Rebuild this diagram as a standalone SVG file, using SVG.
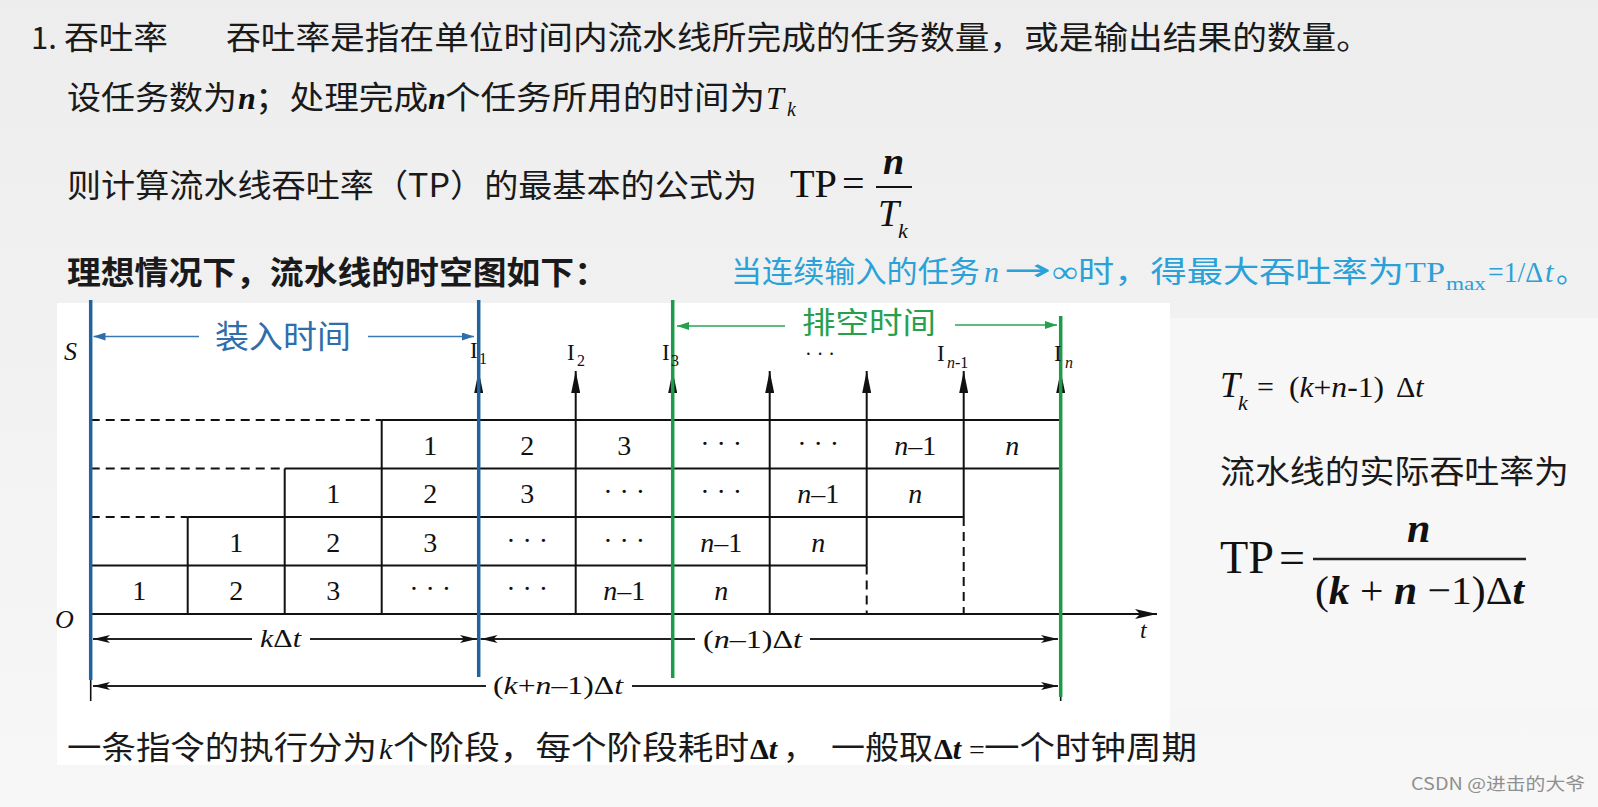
<svg xmlns="http://www.w3.org/2000/svg" width="1598" height="807" viewBox="0 0 1598 807">
<style>
.cjk{font-family:"Noto Sans CJK SC","Noto Sans",sans-serif;fill:#1a1a1a}
.m{font-family:"Liberation Serif","Times New Roman",serif;fill:#111}
.i{font-style:italic}
.b{font-weight:bold}
.cy{fill:#2aa1d8}
.g{stroke:#111;stroke-width:2;fill:none}
.d{stroke:#111;stroke-width:2;fill:none;stroke-dasharray:9 6}
.dim{stroke:#222;stroke-width:2.2;fill:none}
.num{font-family:"Liberation Serif","Times New Roman",serif;font-size:28px;fill:#111;text-anchor:middle}
.blue{stroke:#1f64a0;stroke-width:3.5}
.green{stroke:#1d9a4a;stroke-width:3.5}
</style>
<defs>
<linearGradient id="bg" x1="0" y1="0" x2="0" y2="1">
<stop offset="0" stop-color="#ededed"/>
<stop offset="1" stop-color="#f7f7f7"/>
</linearGradient>
<marker id="up" markerUnits="userSpaceOnUse" markerWidth="22" markerHeight="9" refX="22" refY="4.5" orient="auto"><path d="M0,0 L22,4.5 L0,9 Z" fill="#111"/></marker>
<marker id="ax" markerUnits="userSpaceOnUse" markerWidth="22" markerHeight="10" refX="22" refY="5" orient="auto"><path d="M0,0 L22,5 L0,10 L5,5 Z" fill="#111"/></marker>
<marker id="da" markerUnits="userSpaceOnUse" markerWidth="17" markerHeight="8" refX="17" refY="4" orient="auto"><path d="M0,0 L17,4 L0,8 L4,4 Z" fill="#111"/></marker>
<marker id="ba" markerUnits="userSpaceOnUse" markerWidth="12" markerHeight="8" refX="12" refY="4" orient="auto"><path d="M0,0 L12,4 L0,8 Z" fill="#2f6eab"/></marker>
<marker id="ga" markerUnits="userSpaceOnUse" markerWidth="12" markerHeight="8" refX="12" refY="4" orient="auto"><path d="M0,0 L12,4 L0,8 Z" fill="#27a04e"/></marker>
</defs>
<rect width="1598" height="807" fill="url(#bg)"/>
<rect x="57" y="303" width="1113" height="462" fill="#ffffff"/>
<rect x="1170" y="318" width="428" height="392" fill="#f7f7f7"/>

<g id="header">
<text class="cjk" x="31" y="49" font-size="31">1.</text>
<text class="cjk" x="64" y="49" font-size="32" textLength="104" lengthAdjust="spacingAndGlyphs">吞吐率</text>
<text class="cjk" x="226" y="49" font-size="32" textLength="1145" lengthAdjust="spacingAndGlyphs">吞吐率是指在单位时间内流水线所完成的任务数量，或是输出结果的数量。</text>
</g>
<g id="line2">
<text class="cjk" x="67" y="109" font-size="32" textLength="170" lengthAdjust="spacingAndGlyphs">设任务数为</text>
<text class="m i b" x="238" y="109" font-size="32">n</text>
<text class="cjk" x="255" y="109" font-size="32" textLength="173" lengthAdjust="spacingAndGlyphs">；处理完成</text>
<text class="m i b" x="428" y="109" font-size="32">n</text>
<text class="cjk" x="445" y="109" font-size="32" textLength="320" lengthAdjust="spacingAndGlyphs">个任务所用的时间为</text>
<text class="m i" x="766" y="109" font-size="32">T</text>
<text class="m i" x="787" y="116" font-size="20">k</text>
</g>
<g id="line3">
<text class="cjk" x="67" y="197" font-size="32" textLength="690" lengthAdjust="spacingAndGlyphs">则计算流水线吞吐率（TP）的最基本的公式为</text>
<text class="m" x="790" y="197" font-size="40" textLength="47" lengthAdjust="spacingAndGlyphs">TP</text>
<text class="m" x="842" y="197" font-size="40">=</text>
<text class="m i b" x="883" y="174" font-size="38">n</text>
<line x1="876" y1="187" x2="912" y2="187" stroke="#111" stroke-width="2"/>
<text class="m i" x="878" y="226" font-size="38">T</text>
<text class="m i" x="898" y="238" font-size="22">k</text>
</g>
<g id="line4">
<text class="cjk" x="67" y="284" font-size="32" font-weight="bold" textLength="541" lengthAdjust="spacingAndGlyphs">理想情况下，流水线的时空图如下：</text>
</g>
<g id="note">
<text class="cjk cy" x="731" y="282" font-size="30" textLength="249" lengthAdjust="spacingAndGlyphs">当连续输入的任务</text>
<text class="m i cy" x="984" y="282" font-size="30">n</text>
<text class="cy" x="1003" y="280" font-size="30" font-family="DejaVu Sans, sans-serif" textLength="48" lengthAdjust="spacingAndGlyphs">→</text>
<text class="m cy" x="1052" y="282" font-size="30" textLength="26" lengthAdjust="spacingAndGlyphs">∞</text>
<text class="cjk cy" x="1078" y="282" font-size="30" textLength="326" lengthAdjust="spacingAndGlyphs">时，得最大吞吐率为</text>
<text class="m cy" x="1405" y="282" font-size="30" textLength="40" lengthAdjust="spacingAndGlyphs">TP</text>
<text class="m cy" x="1446" y="290" font-size="18" textLength="40" lengthAdjust="spacingAndGlyphs">max</text>
<text class="m cy" x="1488" y="282" font-size="30" textLength="55" lengthAdjust="spacingAndGlyphs">=1/Δ</text>
<text class="m i cy" x="1545" y="282" font-size="30">t</text>
<text class="cjk cy" x="1556" y="282" font-size="30">。</text>
</g>

<g id="grid">
<line class="g" x1="90.7" y1="565.5" x2="866.7" y2="565.5"/>
<line class="d" x1="90.7" y1="517" x2="187.7" y2="517"/>
<line class="g" x1="187.7" y1="517" x2="963.7" y2="517"/>
<line class="d" x1="90.7" y1="468.5" x2="284.7" y2="468.5"/>
<line class="g" x1="284.7" y1="468.5" x2="1060.7" y2="468.5"/>
<line class="d" x1="90.7" y1="420" x2="381.7" y2="420"/>
<line class="g" x1="381.7" y1="420" x2="1060.7" y2="420"/>
<line class="g" x1="187.7" y1="517" x2="187.7" y2="614"/>
<line class="g" x1="284.7" y1="468.5" x2="284.7" y2="614"/>
<line class="g" x1="381.7" y1="420" x2="381.7" y2="614"/>
<line class="d" x1="866.7" y1="565.5" x2="866.7" y2="614"/>
<line class="d" x1="963.7" y1="517" x2="963.7" y2="614"/>
</g>
<g id="connectors">
<line class="g" x1="90.7" y1="614" x2="1157" y2="614" marker-end="url(#ax)"/>
<line class="g" x1="478.7" y1="614" x2="478.7" y2="371" marker-end="url(#up)"/>
<line class="g" x1="575.7" y1="614" x2="575.7" y2="371" marker-end="url(#up)"/>
<line class="g" x1="672.7" y1="614" x2="672.7" y2="371" marker-end="url(#up)"/>
<line class="g" x1="769.7" y1="614" x2="769.7" y2="371" marker-end="url(#up)"/>
<line class="g" x1="866.7" y1="565.5" x2="866.7" y2="371" marker-end="url(#up)"/>
<line class="g" x1="963.7" y1="517" x2="963.7" y2="371" marker-end="url(#up)"/>
<line class="g" x1="1060.7" y1="468.5" x2="1060.7" y2="371" marker-end="url(#up)"/>
<line class="dim" x1="252" y1="639" x2="93" y2="639" marker-end="url(#da)"/>
<line class="dim" x1="310" y1="639" x2="477" y2="639" marker-end="url(#da)"/>
<line class="dim" x1="695" y1="639" x2="480.5" y2="639" marker-end="url(#da)"/>
<line class="dim" x1="810" y1="639" x2="1058" y2="639" marker-end="url(#da)"/>
<line class="dim" x1="486" y1="686" x2="93" y2="686" marker-end="url(#da)"/>
<line class="dim" x1="632" y1="686" x2="1058" y2="686" marker-end="url(#da)"/>
<line x1="199" y1="336.5" x2="93.5" y2="336.5" stroke="#3a78b5" stroke-width="1.6" marker-end="url(#ba)"/>
<line x1="368" y1="336.5" x2="474" y2="336.5" stroke="#3a78b5" stroke-width="1.6" marker-end="url(#ba)"/>
<line x1="785" y1="326" x2="677" y2="326" stroke="#2aa352" stroke-width="1.6" marker-end="url(#ga)"/>
<line x1="955" y1="325" x2="1057" y2="325" stroke="#2aa352" stroke-width="1.6" marker-end="url(#ga)"/>
<line x1="90.7" y1="678" x2="90.7" y2="701" stroke="#111" stroke-width="1.6"/>
<line x1="1060.7" y1="690" x2="1060.7" y2="701" stroke="#111" stroke-width="1.6"/>
</g>

<g id="stage1">
<text class="num" x="139.2" y="600">1</text>
<text class="num" x="236.2" y="600">2</text>
<text class="num" x="333.2" y="600">3</text>
<text class="num" x="430.2" y="598" font-size="22">· · ·</text>
<text class="num" x="527.2" y="598" font-size="22">· · ·</text>
<text class="num" x="624.2" y="600"><tspan class="i">n</tspan>–1</text>
<text class="num i" x="721.2" y="600">n</text>
</g>
<g id="stage2">
<text class="num" x="236.2" y="551.5">1</text>
<text class="num" x="333.2" y="551.5">2</text>
<text class="num" x="430.2" y="551.5">3</text>
<text class="num" x="527.2" y="549.5" font-size="22">· · ·</text>
<text class="num" x="624.2" y="549.5" font-size="22">· · ·</text>
<text class="num" x="721.2" y="551.5"><tspan class="i">n</tspan>–1</text>
<text class="num i" x="818.2" y="551.5">n</text>
</g>
<g id="stage3">
<text class="num" x="333.2" y="503">1</text>
<text class="num" x="430.2" y="503">2</text>
<text class="num" x="527.2" y="503">3</text>
<text class="num" x="624.2" y="501" font-size="22">· · ·</text>
<text class="num" x="721.2" y="501" font-size="22">· · ·</text>
<text class="num" x="818.2" y="503"><tspan class="i">n</tspan>–1</text>
<text class="num i" x="915.2" y="503">n</text>
</g>
<g id="stage4">
<text class="num" x="430.2" y="454.5">1</text>
<text class="num" x="527.2" y="454.5">2</text>
<text class="num" x="624.2" y="454.5">3</text>
<text class="num" x="721.2" y="452.5" font-size="22">· · ·</text>
<text class="num" x="818.2" y="452.5" font-size="22">· · ·</text>
<text class="num" x="915.2" y="454.5"><tspan class="i">n</tspan>–1</text>
<text class="num i" x="1012.2" y="454.5">n</text>
</g>

<g id="phase-lines">
<line class="blue" x1="90.7" y1="300" x2="90.7" y2="680"/>
<line class="blue" x1="478.7" y1="300" x2="478.7" y2="677"/>
<line class="green" x1="672.7" y1="300" x2="672.7" y2="678"/>
<line class="green" x1="1060.7" y1="316" x2="1060.7" y2="697"/>
</g>

<g id="axis-labels">
<text class="m i" x="64" y="360" font-size="26">S</text>
<text class="m i" x="55" y="628" font-size="26">O</text>
<text class="m i" x="1140" y="638" font-size="24">t</text>
<text class="m" x="470" y="358" font-size="23">I</text><text class="m" x="479" y="364" font-size="16">1</text>
<text class="m" x="567" y="360" font-size="23">I</text><text class="m" x="577" y="366" font-size="16">2</text>
<text class="m" x="662" y="360" font-size="23">I</text><text class="m" x="671" y="366" font-size="16">3</text>
<text class="m" x="820" y="361" font-size="20" text-anchor="middle">· · ·</text>
<text class="m" x="937" y="361" font-size="23">I</text><text class="m" x="947" y="368" font-size="16"><tspan class="i">n</tspan>-1</text>
<text class="m" x="1054" y="361" font-size="23">I</text><text class="m i" x="1065" y="368" font-size="16">n</text>
</g>
<g id="phase-labels">
<text class="cjk" x="215" y="348" font-size="32" style="fill:#2f6eab" textLength="136" lengthAdjust="spacingAndGlyphs">装入时间</text>
<text class="cjk" x="802" y="333" font-size="30" style="fill:#27a04e" textLength="134" lengthAdjust="spacingAndGlyphs">排空时间</text>
</g>
<g id="dim-labels">
<text class="m" x="260" y="647" font-size="25" textLength="41" lengthAdjust="spacingAndGlyphs"><tspan class="i">k</tspan>Δ<tspan class="i">t</tspan></text>
<text class="m" x="703" y="648" font-size="25" textLength="99" lengthAdjust="spacingAndGlyphs">(<tspan class="i">n</tspan>–1)Δ<tspan class="i">t</tspan></text>
<text class="m" x="493" y="694" font-size="25" textLength="130" lengthAdjust="spacingAndGlyphs">(<tspan class="i">k</tspan>+<tspan class="i">n</tspan>–1)Δ<tspan class="i">t</tspan></text>
</g>

<g id="footer">
<text class="cjk" x="67" y="759" font-size="32" textLength="310" lengthAdjust="spacingAndGlyphs">一条指令的执行分为</text>
<text class="m i" x="379" y="759" font-size="30">k</text>
<text class="cjk" x="393" y="759" font-size="32" textLength="356" lengthAdjust="spacingAndGlyphs">个阶段，每个阶段耗时</text>
<text class="m b" x="750" y="759" font-size="30">Δ<tspan class="i">t</tspan></text>
<text class="cjk" x="783" y="759" font-size="32">，</text>
<text class="cjk" x="831" y="759" font-size="32" textLength="102" lengthAdjust="spacingAndGlyphs">一般取</text>
<text class="m b" x="934" y="759" font-size="30">Δ<tspan class="i">t</tspan></text>
<text class="m" x="969" y="759" font-size="28">=</text>
<text class="cjk" x="984" y="759" font-size="32" textLength="213" lengthAdjust="spacingAndGlyphs">一个时钟周期</text>
</g>

<g id="formulas">
<text class="m i" x="1220" y="397" font-size="36">T</text>
<text class="m i" x="1238" y="410" font-size="22">k</text>
<text class="m" x="1257" y="397" font-size="30">=</text>
<text class="m" x="1289" y="397" font-size="30" textLength="95" lengthAdjust="spacingAndGlyphs">(<tspan class="i">k</tspan>+<tspan class="i">n</tspan>-1)</text>
<text class="m" x="1396" y="397" font-size="30">Δ<tspan class="i">t</tspan></text>
<text class="cjk" x="1220" y="483" font-size="32" textLength="349" lengthAdjust="spacingAndGlyphs">流水线的实际吞吐率为</text>
<text class="m" x="1220" y="573" font-size="46" textLength="54" lengthAdjust="spacingAndGlyphs">TP</text>
<text class="m" x="1279" y="573" font-size="46" textLength="26" lengthAdjust="spacingAndGlyphs">=</text>
<text class="m i b" x="1407" y="542" font-size="42">n</text>
<line x1="1313" y1="559" x2="1526" y2="559" stroke="#222" stroke-width="2.5"/>
<text class="m" x="1315" y="604" font-size="41" textLength="209" lengthAdjust="spacingAndGlyphs">(<tspan class="i b">k</tspan> + <tspan class="i b">n</tspan> −1)Δ<tspan class="i b">t</tspan></text>
</g>
<g id="watermark">
<text class="cjk" x="1411" y="790" font-size="17" style="fill:#8f8f8f" textLength="174" lengthAdjust="spacingAndGlyphs">CSDN @进击的大爷</text>
</g>
</svg>
